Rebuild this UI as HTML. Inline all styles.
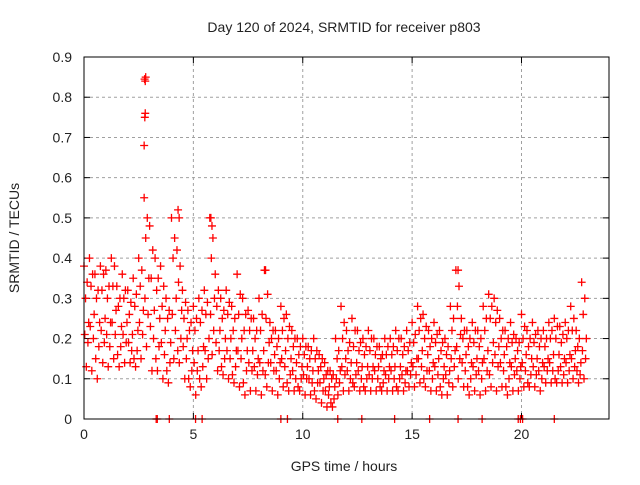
<!DOCTYPE html>
<html><head><meta charset="utf-8"><style>
body{margin:0;background:#fff;}
svg text{font-family:"Liberation Sans","DejaVu Sans",sans-serif;fill:#222;}
</style></head><body>
<svg id="chart" width="640" height="480" xmlns="http://www.w3.org/2000/svg">
<text x="344" y="32" font-size="14" text-anchor="middle">Day 120 of 2024, SRMTID for receiver p803</text>
<text x="344" y="471" font-size="14" text-anchor="middle">GPS time / hours</text>
<text transform="translate(19,238) rotate(-90)" font-size="14" text-anchor="middle">SRMTID / TECUs</text>
<g id="grid"></g>
<g id="ticks"></g>
<g id="marks"></g>
<rect x="84" y="57" width="525" height="362" fill="none" stroke="#000" stroke-width="1"/>
</svg>
<script>
const xTicks=[0,5,10,15,20];
const yTicks=[0,0.1,0.2,0.3,0.4,0.5,0.6,0.7,0.8,0.9];
const sHigh=[.38,.40,.36,.38,.37,.40,.33,.36,.32,.35,.40,.55,.48,.40,.38,.30,.50,.42,.32,.27,.28,.30,.32,.50,.36,.30,.32,.28,.36,.30,.27,.25,.30,.37,.24,.22,.28,.26,.22,.20,.20,.18,.20,.16,.14,.12,.20,.28,.22,.25,.22,.20,.22,.20,.18,.20,.20,.22,.20,.22,.24,.28,.26,.22,.24,.22,.20,.28,.37,.25,.22,.24,.22,.28,.31,.30,.25,.22,.24,.20,.26,.22,.24,.22,.22,.24,.25,.23,.24,.28,.22,.34];
const sA=[.34,.36,.32,.36,.33,.38,.30,.32,.29,.31,.37,.50,.42,.35,.33,.27,.45,.38,.29,.24,.25,.27,.29,.45,.32,.27,.29,.25,.31,.26,.25,.22,.26,.31,.22,.20,.25,.23,.20,.18,.18,.17,.17,.15,.12,.11,.17,.24,.19,.22,.19,.18,.20,.18,.16,.18,.18,.20,.18,.19,.21,.25,.23,.20,.21,.19,.18,.25,.33,.22,.20,.22,.20,.25,.28,.27,.22,.20,.21,.19,.23,.20,.21,.20,.20,.22,.23,.21,.22,.25,.20,.30];
const sUpper=[.30,.33,.30,.32,.30,.33,.28,.30,.26,.28,.33,.45,.35,.32,.28,.25,.40,.34,.25,.22,.22,.24,.26,.40,.28,.25,.26,.22,.26,.22,.22,.20,.22,.25,.20,.18,.22,.20,.18,.16,.16,.15,.15,.13,.11,.10,.15,.20,.17,.18,.17,.16,.17,.16,.15,.16,.16,.17,.16,.17,.19,.22,.20,.18,.19,.17,.16,.22,.28,.20,.18,.19,.18,.22,.25,.24,.20,.18,.19,.17,.20,.18,.19,.18,.18,.20,.20,.19,.20,.22,.18,.26];
const sMid=[.24,.26,.24,.25,.24,.27,.23,.24,.21,.22,.27,.35,.27,.25,.22,.19,.30,.27,.20,.17,.17,.18,.20,.30,.22,.20,.20,.17,.20,.17,.17,.15,.17,.19,.16,.14,.17,.15,.14,.13,.13,.12,.12,.10,.08,.08,.12,.15,.14,.14,.13,.13,.13,.13,.12,.13,.13,.13,.12,.14,.15,.17,.16,.14,.15,.13,.12,.17,.21,.16,.14,.15,.14,.17,.19,.18,.16,.14,.15,.13,.16,.15,.15,.14,.15,.16,.16,.15,.16,.17,.14,.20];
const sB=[.21,.23,.15,.22,.21,.24,.16,.21,.19,.15,.24,.30,.23,.15,.19,.12,.26,.17,.18,.10,.14,.10,.17,.26,.19,.13,.17,.11,.17,.09,.14,.13,.14,.11,.14,.12,.15,.09,.12,.08,.11,.10,.07,.09,.07,.04,.10,.13,.12,.09,.12,.08,.11,.12,.08,.11,.12,.08,.11,.12,.13,.15,.10,.12,.13,.08,.11,.15,.18,.14,.08,.13,.12,.15,.11,.16,.14,.08,.13,.12,.14,.09,.13,.12,.13,.14,.10,.13,.14,.15,.12,.17];
const sLower=[.19,.20,.18,.19,.18,.21,.18,.19,.17,.17,.21,.26,.20,.18,.16,.14,.22,.20,.15,.12,.12,.13,.15,.22,.17,.15,.15,.13,.15,.12,.12,.11,.12,.14,.12,.10,.13,.11,.10,.10,.10,.09,.09,.07,.06,.05,.09,.11,.10,.11,.10,.10,.10,.10,.09,.10,.10,.10,.09,.11,.11,.13,.12,.10,.11,.10,.09,.13,.15,.12,.10,.11,.10,.12,.14,.13,.12,.10,.11,.10,.12,.11,.11,.10,.12,.12,.12,.11,.12,.13,.11,.15];
const sLow=[.13,.12,.10,.14,.13,.15,.13,.14,.14,.13,.15,.18,.12,.12,.10,.09,.15,.14,.10,.08,.06,.08,.10,.16,.12,.11,.10,.09,.08,.06,.07,.07,.06,.08,.07,.06,.08,.07,.07,.07,.06,.06,.05,.04,.03,.03,.06,.07,.07,.08,.07,.07,.07,.07,.07,.07,.07,.07,.07,.08,.08,.09,.08,.07,.07,.06,.06,.08,.10,.08,.06,.07,.06,.07,.08,.07,.08,.06,.07,.07,.08,.08,.08,.07,.09,.09,.09,.09,.09,.10,.09,.10];
const outlierTimes=[2.75,2.78,2.8,2.8,2.82,2.77,4.3,4.35,5.8,5.85,8.3,17.1];
const outlierValues=[.68,.75,.76,.84,.85,.845,.52,.50,.50,.48,.37,.37];
const zeroTimes=[3.3,3.35,3.9,5.1,5.4,9.0,9.3,11.6,12.7,14.2,15.8,17.1,18.2,19.85,19.95,20.05,21.5];
const zeroValues=[0,0,0,0,0,0,0,0,0,0,0,0,0,0,0,0,0];
const L=84,R=609,T=57,B=419;
const xS=h=>L+h*(R-L)/24;
const yS=v=>B-v*(B-T)/0.9;
const NS="http://www.w3.org/2000/svg";
function mk(tag,attrs,parent){const e=document.createElementNS(NS,tag);for(const k in attrs)e.setAttribute(k,attrs[k]);parent.appendChild(e);return e;}
const grid=document.getElementById('grid'),ticks=document.getElementById('ticks'),marks=document.getElementById('marks');
xTicks.forEach(t=>{
  const x=xS(t);
  if(t>0){const g=mk('line',{x1:x,x2:x,y1:T,y2:B,stroke:'#a0a0a0','stroke-dasharray':'3,3'},grid);
  
  }
  mk('line',{x1:x,x2:x,y1:B,y2:B-6,stroke:'#000'},ticks);
  mk('line',{x1:x,x2:x,y1:T,y2:T+6,stroke:'#000'},ticks);
  const tx=mk('text',{x:x,y:B+20,'font-size':14,'text-anchor':'middle'},ticks);tx.textContent=t;
  
  
});
yTicks.forEach(t=>{
  const y=yS(t);
  if(t>0&&t<0.9){const g=mk('line',{x1:L,x2:R,y1:y,y2:y,stroke:'#a0a0a0','stroke-dasharray':'3,3'},grid);
  
  }
  mk('line',{x1:L,x2:L+6,y1:y,y2:y,stroke:'#000'},ticks);
  mk('line',{x1:R,x2:R-6,y1:y,y2:y,stroke:'#000'},ticks);
  const tx=mk('text',{x:L-12,y:y+5,'font-size':14,'text-anchor':'end'},ticks);tx.textContent=t.toFixed(1).replace(/^0\.0$/,'0');
  
  
});
function plus(h,v){
  const x=xS(h),y=yS(v);
  const p=mk('path',{d:`M${x-4},${y}h8M${x},${y-4}v8`,stroke:'#ff0000','stroke-width':1.3,fill:'none'},marks);
  
  
}
const series=[sHigh,sA,sUpper,sMid,sB,sLower,sLow];
const offs=[0.0,0.143,0.071,0.214,0.036,0.179,0.107];
series.forEach((arr,si)=>arr.forEach((v,i)=>plus(i*0.25+offs[si],v)));
outlierTimes.forEach((h,i)=>plus(h,outlierValues[i]));
zeroTimes.forEach((h,i)=>plus(h,zeroValues[i]));
</script>
</body></html>
